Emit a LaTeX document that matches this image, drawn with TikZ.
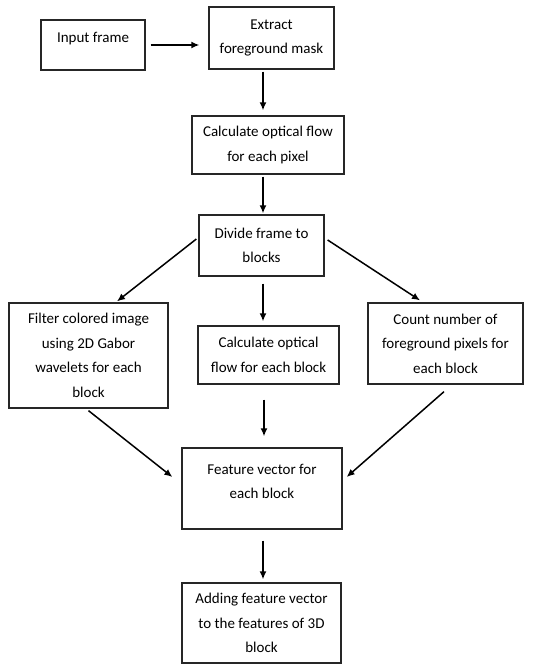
\documentclass[tikz,border=0pt]{standalone}
\usepackage{fontspec}
\setmainfont{Carlito}
\usetikzlibrary{arrows.meta}
\begin{document}
\begin{tikzpicture}[x=1pt,y=1pt,
  box/.style={draw=black!85, line width=1.3pt, rectangle, align=center, inner sep=0pt,
    font=\fontsize{15}{24.5}\selectfont},
  arr/.style={draw=black, line width=1.5pt, -{Latex[length=8pt,width=7pt]}}]
\useasboundingbox (0,0) rectangle (547,-664);
\node[box, minimum width=104, minimum height=50, text depth=15pt] (in) at (93,-45) {Input frame};
\node[box, minimum width=125, minimum height=62] (ext) at (271.5,-38) {Extract\\foreground mask};
\node[box, minimum width=152, minimum height=58] (cpx) at (268,-145) {Calculate optical flow\\for each pixel};
\node[box, minimum width=125, minimum height=61] (div) at (261.5,-245.5) {Divide frame to\\blocks};
\node[box, minimum width=159, minimum height=105] (fil) at (88.5,-355.5) {Filter colored image\\using 2D Gabor\\wavelets for each\\block};
\node[box, minimum width=141, minimum height=58] (cbl) at (268.5,-355) {Calculate optical\\flow for each block};
\node[box, minimum width=155, minimum height=81] (cnt) at (445.5,-343.5) {Count number of\\foreground pixels for\\each block};
\node[box, minimum width=160, minimum height=81, text depth=14pt] (fv) at (262,-488.5) {Feature vector for\\each block};
\node[box, minimum width=159, minimum height=80] (add) at (261.5,-623) {Adding feature vector\\to the features of 3D\\block};

\draw[arr] ([xshift=5]in.east) -- ([xshift=-9]in.east -| ext.west);
\draw[arr] ([xshift=-8.5,yshift=-2]ext.south) -- ([xshift=-5,yshift=5]cpx.north);
\draw[arr] ([xshift=-5,yshift=-2]cpx.south) -- ([xshift=1.5,yshift=1]div.north);
\draw[arr] ([xshift=-2,yshift=6.5]div.west) -- ([xshift=28.5,yshift=1]fil.north);
\draw[arr] ([xshift=3,yshift=5.5]div.east) -- ([xshift=-25.5,yshift=2]cnt.north);
\draw[arr] ([xshift=1.5,yshift=-7]div.south) -- ([xshift=-5.5,yshift=4]cbl.north);
\draw[arr] ([yshift=-2]fil.south) -- ([xshift=-9,yshift=11.5]fv.west);
\draw[arr] ([xshift=-4.5,yshift=-15]cbl.south) -- ([xshift=2,yshift=11]fv.north);
\draw[arr] ([xshift=-1.5,yshift=-7]cnt.south) -- ([xshift=4,yshift=11.5]fv.east);
\draw[arr] ([xshift=1,yshift=-11]fv.south) -- ([xshift=1.5,yshift=3]add.north);
\end{tikzpicture}
\end{document}
